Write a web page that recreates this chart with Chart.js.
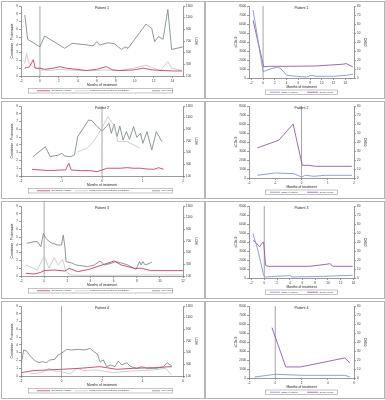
<!DOCTYPE html>
<html>
<head>
<meta charset="utf-8">
<script src="https://cdn.jsdelivr.net/npm/chart.js@4.4.1/dist/chart.umd.min.js"></script>
<style>
  body { margin: 0; background: #fff; width: 385px; height: 400px; position: relative; overflow: hidden; }
  .frame { position: absolute; box-sizing: border-box; border: 1px solid #b4b4b4; }
  canvas { position: absolute; }
</style>
</head>
<body>
<script>
// legend labels
const leftLabels = ["Creatinine (mg/dl)", "Proteinuria (mg protein/g creatinine)", "LDH (U/L)"]
const rightLabels = ["sC5b-9 (ng/ml)", "CH50 (U/ml)"]

// Patient 1
const p1CreatMonths = [-1.6, -1.1, -0.7, -0.5, 0, 0.5, 1.4, 2.1, 2.8, 3.9, 4.9, 6.0, 7.0, 7.7, 8.4, 9.8, 10.9, 12.0, 13.0, 14.1, 15.0]
const p1Creat = [1.0, 1.2, 2.1, 1.0, 1.0, 0.86, 1.0, 1.2, 1.0, 0.86, 0.7, 0.86, 1.2, 0.77, 0.7, 0.77, 1.0, 0.77, 0.7, 0.65, 0.65]
const p1ProtMonths = [-1.6, -1.4, -1.15, -0.9, -0.7, 0, 1.1, 2.1, 3.9, 5.6, 7.0, 8.4, 9.9, 11.2, 12.0, 12.7, 13.5, 13.9, 15.0]
const p1Prot = [1.6, 2.9, 1.6, 1.4, 1.2, 0.8, 0.7, 0.86, 0.7, 0.7, 0.77, 0.7, 1.0, 1.4, 1.0, 0.7, 1.85, 1.0, 0.7]
const p1LdhMonths = [-1.6, -1.3, 0, 0.5, 2.6, 3.4, 5.1, 5.6, 6.0, 6.3, 7.2, 7.9, 8.6, 9.0, 9.3, 11.2, 11.8, 12.1, 12.5, 13.0, 13.5, 13.9, 15.1]
const p1Ldh = [1145, 730, 600, 785, 575, 660, 630, 615, 690, 630, 670, 650, 555, 600, 575, 990, 915, 690, 775, 730, 1240, 555, 600]
const p1Sc5Months = [-1.7, 0, 1.2, 2.5, 3.1, 4.0, 5.7, 7.4, 8.2, 9.1, 12.0, 14.2, 15.3]
const p1Sc5 = [7550, 700, 1000, 1230, 1000, 300, 190, 110, 300, 190, 190, 300, 410]
const p1Ch50Months = [-1.7, 0.1, 1.1, 4.5, 9.1, 13.6, 14.2, 15.3]
const p1Ch50 = [64, 12.5, 13, 13, 13.4, 15.3, 16, 12.3]
const p1LeftTicks = [-2, 0, 2, 4, 6, 8, 10, 12, 14]
const p1RightTicks = [-2, 0, 2, 4, 6, 8, 10, 12, 14]

// Patient 2
const p2CreatMonths = [-1.73, -1.52, -1.27, -1.03, -0.9, -0.82, -0.76, -0.53, -0.29, -0.12, 0, 0.12, 0.45, 0.62, 0.78, 0.95, 1.11, 1.28, 1.4, 1.52]
const p2Creat = [0.86, 0.77, 0.69, 0.77, 0.77, 1.63, 0.77, 0.69, 0.69, 0.56, 0.77, 1.0, 1.0, 1.07, 1.0, 1.0, 0.9, 0.86, 1.07, 0.86]
const p2ProtMonths = [-0.6, -0.37, -0.21, -0.08, 0.04, 0.14, 0.29, 0.39, 0.62, 0.95]
const p2Prot = [3.13, 3.56, 4.42, 5.49, 6.57, 7.64, 6.57, 4.42, 4.42, 3.56]
const p2LdhMonths = [-1.70, -1.40, -1.28, -1.07, -0.99, -0.93, -0.78, -0.68, -0.60, -0.33, -0.25, -0.12, 0, 0.11, 0.17, 0.23, 0.30, 0.37, 0.44, 0.52, 0.60, 0.68, 0.78, 0.86, 0.95, 1.01, 1.11, 1.23, 1.34, 1.48]
const p2Ldh = [431, 603, 431, 460, 489, 443, 431, 460, 774, 1060, 1049, 946, 877, 946, 1003, 831, 991, 774, 957, 717, 860, 729, 946, 763, 831, 660, 860, 546, 860, 689]
const p2Sc5Months = [-1.68, -0.99, -0.29, 0, 0.15, 0.47, 0.91, 1.92]
const p2Sc5 = [300, 560, 480, 110, 300, 190, 300, 300]
const p2Ch50Months = [-1.68, -0.86, -0.32, 0.03, 0.28, 0.53, 1.04, 1.92]
const p2Ch50 = [33.5, 42, 60, 14.1, 14.1, 13, 13, 13]
const p2LeftTicks = [-2, -1, 0, 1, 2]
const p2RightTicks = [-2, -1, 0, 1, 2]

// Patient 3
const p3CreatMonths = [-1.59, -0.87, -0.35, 0, 0.87, 1.79, 2.17, 2.89, 3.9, 4.91, 6.07, 6.65, 7.8, 8.38, 9.25, 12]
const p3Creat = [0.34, 0.26, 0.43, 0.69, 0.77, 0.64, 0.99, 0.56, 0.86, 1.37, 1.93, 1.42, 0.99, 0.99, 0.69, 0.69]
const p3ProtMonths = [-1.59, -0.58, 0, 0.43, 0.87, 1.21, 1.59, 1.88, 2.31, 3.76, 6.36, 9.25, 12]
const p3Prot = [1.42, 0.77, 2.58, 0.99, 2.4, 1.42, 2.15, 0.56, 0.13, 0.09, 0.09, 0.13, 0.13]
const p3LdhMonths = [-1.5, -0.87, -0.58, -0.29, -0.06, 0.14, 0.58, 1.16, 1.5, 1.65, 1.79, 1.9, 2.31, 2.75, 3.76, 4.34, 4.83, 5.2, 5.78, 6.21, 6.79, 7.23, 7.95, 8.24, 8.38, 8.53, 8.73, 9.1, 9.3]
const p3Ldh = [660, 689, 689, 603, 831, 746, 671, 631, 631, 803, 603, 346, 329, 289, 260, 289, 357, 289, 317, 346, 317, 289, 214, 346, 289, 346, 289, 317, 334]
const p3Sc5Months = [-1.79, -1.0, -0.1, 0.21, 1.9, 4.0, 4.5, 9.3, 13.9]
const p3Sc5 = [4950, 3090, 300, 112, 186, 260, 112, 186, 300]
const p3Ch50Months = [-1.79, -1.26, -0.74, -0.42, -0.1, 0.21, 0.58, 4.0, 7.16, 9.8, 10.3, 10.8, 13.9]
const p3Ch50 = [42, 39, 34.6, 38.3, 40, 14.1, 13, 13, 13, 15.3, 16, 13, 13]
const p3LeftTicks = [-2, 0, 2, 4, 6, 8, 10, 12]
const p3RightTicks = [-2, 0, 2, 4, 6, 8, 10, 12, 14]

// Patient 4
const p4CreatMonths = [-1.98, -1.4, -0.74, 0, 0.91, 1.9, 2.73, 3.55, 4.55, 5.45]
const p4Creat = [0.43, 0.69, 0.77, 0.86, 0.99, 1.2, 0.86, 0.99, 1.07, 1.2]
const p4ProtMonths = [-1.57, -0.99, -0.61, -0.41, 0, 0.41, 0.78, 1.07, 1.74, 2.56, 3.22, 3.88, 4.55, 5.12, 5.45]
const p4Prot = [0.26, 0.43, 0.99, 0.69, 0.56, 0.26, 0.99, 0.69, 0.77, 0.43, 0.6, 0.69, 0.77, 0.99, 0.13]
const p4LdhMonths = [-1.98, -1.87, -1.74, -1.54, -1.32, -1.11, -0.94, -0.74, -0.58, -0.33, -0.17, 0, 0.25, 0.5, 0.83, 1.16, 1.4, 1.6, 1.77, 1.9, 2.07, 2.23, 2.43, 2.64, 2.81, 2.98, 3.22, 3.42, 3.72, 3.97, 4.21, 4.71, 5.04, 5.21, 5.45]
const p4Ldh = [317, 546, 534, 443, 363, 329, 346, 329, 374, 386, 460, 489, 557, 546, 557, 546, 574, 517, 477, 346, 374, 260, 289, 260, 357, 289, 329, 260, 231, 260, 231, 231, 260, 329, 271]
const p4Sc5Months = [-1.58, 0, 2.05, 5.3, 5.68]
const p4Sc5 = [112, 410, 300, 300, 112]
const p4Ch50Months = [-0.25, 0.8, 1.93, 5.3, 5.68]
const p4Ch50 = [56, 12.3, 12.3, 22.3, 16.7]
const p4LeftTicks = [-2, 0, 2, 4, 6]
const p4RightTicks = [-2, 0, 2, 4, 6]

const FONT = '"Liberation Sans", Arial, sans-serif'
Chart.defaults.font.family = FONT
Chart.defaults.color = "#333"

const pts = (xs, ys) => xs.map((x, i) => ({ x: x, y: ys[i] }))

// reference line at month 0, panel title and boxed legend
const decor = {
    id: "decor",
    beforeDatasetsDraw(chart, args, o) {
        const { ctx, chartArea } = chart
        const px = chart.scales.x.getPixelForValue(0)
        ctx.save()
        ctx.strokeStyle = "#8f8f8f"
        ctx.lineWidth = 0.8
        ctx.beginPath()
        ctx.moveTo(px, o.lineTop != null ? o.lineTop : chartArea.top)
        ctx.lineTo(px, chartArea.bottom)
        ctx.stroke()
        ctx.restore()
    },
    afterDraw(chart, args, o) {
        const { ctx, chartArea } = chart
        ctx.save()
        ctx.fillStyle = "#222"
        ctx.font = "3.6px " + FONT
        ctx.textAlign = "center"
        ctx.textBaseline = "middle"
        ctx.fillText(o.title, (chartArea.left + chartArea.right) / 2, 7.5)

        const [bx, by, bw, bh] = o.legendBox
        ctx.strokeStyle = "#9c9c9c"
        ctx.lineWidth = 0.6
        ctx.strokeRect(bx + 0.5, by + 0.5, bw, bh)
        ctx.font = "2.5px " + FONT
        ctx.textAlign = "left"
        const cy = by + 0.5 + bh / 2
        chart.data.datasets.forEach((ds, i) => {
            const [lx, lw] = o.legendKeys[i]
            ctx.strokeStyle = ds.borderColor
            ctx.lineWidth = 0.8
            ctx.beginPath()
            ctx.moveTo(lx, cy)
            ctx.lineTo(lx + lw, cy)
            ctx.stroke()
            ctx.fillStyle = "#333"
            ctx.fillText(ds.label, lx + lw + 1.5, cy)
        })
        ctx.restore()
    }
}

const plain = v => String(v)

function axis(extra) {
    return Object.assign({
        type: "linear",
        grid: { drawOnChartArea: false, tickLength: 2, color: "#555", lineWidth: 0.6 },
        border: { color: "#555", width: 0.6 },
        ticks: { font: { size: 3 }, padding: 1, maxRotation: 0, autoSkip: false, callback: plain }
    }, extra)
}

function yTicks(step) {
    return { font: { size: 3 }, padding: 1, stepSize: step, autoSkip: false, callback: plain }
}

function axisTitle(text) {
    return { display: true, text: text, font: { size: 3.4 }, padding: 0, color: "#222" }
}

function makeCanvas(left, top, w, h) {
    const c = document.createElement("canvas")
    c.width = w
    c.height = h
    c.style.left = left + "px"
    c.style.top = top + "px"
    c.style.width = w + "px"
    c.style.height = h + "px"
    document.body.appendChild(c)
    return c
}

function makeFrame(left, top, w, h) {
    const d = document.createElement("div")
    d.className = "frame"
    d.style.left = left + "px"
    d.style.top = top + "px"
    d.style.width = w + "px"
    d.style.height = h + "px"
    document.body.appendChild(d)
}

function leftPanel(row, title, xmin, xmax, xticks, creat, prot, ldh, lineTop) {
    const top = row * 100
    makeFrame(1, top + 1, 204, 98)
    const canvas = makeCanvas(0, top, 204, 98)
    new Chart(canvas, {
        type: "line",
        data: {
            datasets: [
                { label: leftLabels[0], data: creat, yAxisID: "y", borderColor: "#c63e66", borderWidth: 0.9 },
                { label: leftLabels[1], data: prot, yAxisID: "y", borderColor: "#c8c8c8", borderWidth: 0.9 },
                { label: leftLabels[2], data: ldh, yAxisID: "y1", borderColor: "#7e8f86", borderWidth: 0.9 }
            ]
        },
        options: {
            responsive: false,
            animation: false,
            devicePixelRatio: 1,
            elements: { point: { radius: 0 }, line: { tension: 0 } },
            layout: { padding: { left: 10, right: 6, top: 6, bottom: 11 } },
            plugins: {
                legend: { display: false },
                tooltip: { enabled: false },
                decor: { title: title, lineTop: lineTop, legendBox: [28, 88, 144, 4.5], legendKeys: [[37, 13], [75, 13], [152, 8]] }
            },
            scales: {
                x: axis({
                    min: xmin, max: xmax,
                    afterBuildTicks: s => { s.ticks = xticks.map(v => ({ value: v })) },
                    afterFit: s => { s.height = 11 },
                    title: axisTitle("Months of treatment")
                }),
                y: axis({
                    min: 0, max: 9,
                    ticks: yTicks(1),
                    afterFit: s => { s.width = 11 },
                    title: axisTitle("Creatinine - Proteinuria")
                }),
                y1: axis({
                    position: "right",
                    min: 100, max: 1300,
                    ticks: yTicks(200),
                    afterFit: s => { s.width = 15 },
                    title: axisTitle("LDH")
                })
            }
        },
        plugins: [decor]
    })
}

function rightPanel(row, title, xmin, xmax, xticks, sc5, ch50) {
    const top = row * 100
    makeFrame(205, top + 1, 180, 98)
    const canvas = makeCanvas(205, top, 180, 98)
    new Chart(canvas, {
        type: "line",
        data: {
            datasets: [
                { label: rightLabels[0], data: sc5, yAxisID: "y", borderColor: "#8797c6", borderWidth: 0.9 },
                { label: rightLabels[1], data: ch50, yAxisID: "y1", borderColor: "#8f5ca2", borderWidth: 0.9 }
            ]
        },
        options: {
            responsive: false,
            animation: false,
            devicePixelRatio: 1,
            elements: { point: { radius: 0 }, line: { tension: 0 } },
            layout: { padding: { left: 29, right: 18, top: 6, bottom: 9 } },
            plugins: {
                legend: { display: false },
                tooltip: { enabled: false },
                decor: { title: title, legendBox: [60, 89.5, 72, 4.5], legendKeys: [[65, 10], [102, 11]] }
            },
            scales: {
                x: axis({
                    min: xmin, max: xmax,
                    afterBuildTicks: s => { s.ticks = xticks.map(v => ({ value: v })) },
                    afterFit: s => { s.height = 11 },
                    title: axisTitle("Months of treatment")
                }),
                y: axis({
                    min: 0, max: 8000,
                    ticks: yTicks(1000),
                    afterFit: s => { s.width = 15 },
                    title: axisTitle("sC5b-9")
                }),
                y1: axis({
                    position: "right",
                    min: 0, max: 80,
                    ticks: yTicks(10),
                    afterFit: s => { s.width = 13 },
                    title: axisTitle("CH50")
                })
            }
        },
        plugins: [decor]
    })
}

leftPanel(0, "Patient 1", -2, 15.1, p1LeftTicks, pts(p1CreatMonths, p1Creat), pts(p1ProtMonths, p1Prot), pts(p1LdhMonths, p1Ldh))
rightPanel(0, "Patient 1", -2.4, 15.5, p1RightTicks, pts(p1Sc5Months, p1Sc5), pts(p1Ch50Months, p1Ch50))
leftPanel(1, "Patient 2", -2, 2, p2LeftTicks, pts(p2CreatMonths, p2Creat), pts(p2ProtMonths, p2Prot), pts(p2LdhMonths, p2Ldh))
rightPanel(1, "Patient 2", -2, 2, p2RightTicks, pts(p2Sc5Months, p2Sc5), pts(p2Ch50Months, p2Ch50))
leftPanel(2, "Patient 3", -2, 12, p3LeftTicks, pts(p3CreatMonths, p3Creat), pts(p3ProtMonths, p3Prot), pts(p3LdhMonths, p3Ldh), 1)
rightPanel(2, "Patient 3", -2.4, 14.1, p3RightTicks, pts(p3Sc5Months, p3Sc5), pts(p3Ch50Months, p3Ch50))
leftPanel(3, "Patient 4", -2, 6, p4LeftTicks, pts(p4CreatMonths, p4Creat), pts(p4ProtMonths, p4Prot), pts(p4LdhMonths, p4Ldh))
rightPanel(3, "Patient 4", -2, 6, p4RightTicks, pts(p4Sc5Months, p4Sc5), pts(p4Ch50Months, p4Ch50))
</script>
</body>
</html>
